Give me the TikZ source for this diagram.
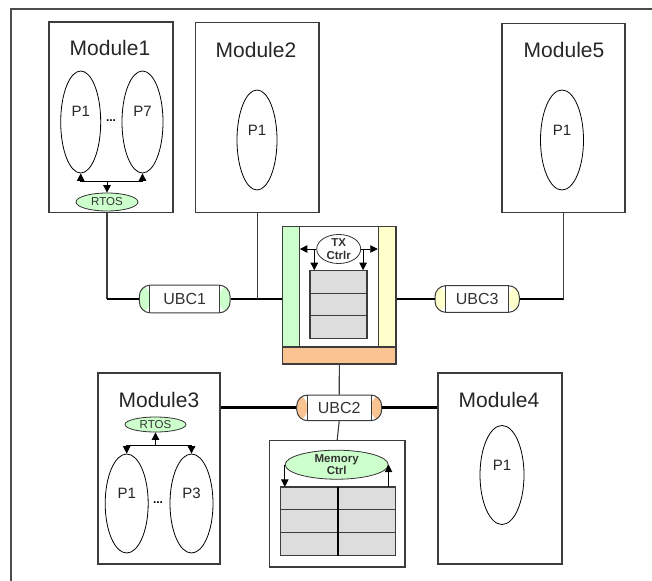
\documentclass[tikz,border=0pt]{standalone}
\usepackage{fontspec}
\setmainfont{Liberation Sans}
\usetikzlibrary{shapes.geometric,arrows.meta}
\definecolor{capgreen}{RGB}{204,255,204}
\definecolor{capyellow}{RGB}{255,255,204}
\definecolor{caporange}{RGB}{250,196,146}
\definecolor{cellgray}{RGB}{221,221,221}
\definecolor{edgegray}{RGB}{60,60,60}
\begin{document}
\begin{tikzpicture}[x=1pt,y=-1pt,
  modbox/.style={draw=edgegray,line width=1.1pt,fill=white,inner sep=0pt,rectangle},
  title/.style={font=\fontsize{21}{24}\selectfont,inner sep=0pt,text=black!85},
  proc/.style={ellipse,draw=black,line width=0.8pt,inner sep=0pt},
  plabel/.style={font=\fontsize{15}{17}\selectfont,inner sep=0pt,text=black!85},
  dots/.style={font=\bfseries\fontsize{12}{14}\selectfont,inner sep=0pt},
  rtosnode/.style={ellipse,draw=black!80,line width=0.8pt,fill=capgreen,inner sep=0pt,font=\fontsize{11.5}{13}\selectfont,text=black!80},
  ctrl/.style={ellipse,draw=black!80,line width=0.8pt,fill=white,inner sep=0pt,align=center,font=\bfseries\fontsize{11.5}{12.5}\selectfont,text=black!80},
  cell/.style={draw=edgegray,line width=1pt,fill=cellgray,inner sep=0pt,rectangle},
  strip/.style={draw=edgegray,line width=1.1pt,inner sep=0pt,rectangle},
  ubc/.style={draw=edgegray,line width=1pt,rounded corners=11pt,fill=white,inner sep=0pt,
    font=\fontsize{16}{18}\selectfont,text=black!80,
    path picture={
      \fill[#1] (path picture bounding box.south west) rectangle ([xshift=10.5pt]path picture bounding box.north west);
      \fill[#1] ([xshift=-10.5pt]path picture bounding box.south east) rectangle (path picture bounding box.north east);
      \draw[edgegray,line width=0.8pt] ([xshift=10.5pt]path picture bounding box.south west) -- ([xshift=10.5pt]path picture bounding box.north west);
      \draw[edgegray,line width=0.8pt] ([xshift=-10.5pt]path picture bounding box.south east) -- ([xshift=-10.5pt]path picture bounding box.north east);
    }},
  bus/.style={line width=2.8pt,black},
  wire/.style={line width=1.1pt,edgegray},
  arr/.style={line width=0.9pt,black,-{Triangle[length=7.5pt,width=7.5pt]}},
  ln/.style={line width=0.9pt,black}
]
\useasboundingbox (0,0) rectangle (652,580);
\fill[white] (0,0) rectangle (652,580);
% outer frame (cropped)
\draw[line width=1.1pt,black!70] (11,600) -- (11,9) -- (670,9);

% ---------- Module1
\node[modbox,minimum width=124pt,minimum height=190.7pt] (m1) at (111,117.35) {};
\node[title] (m1t) at (110,48) {Module1};
\node[proc,minimum width=40pt,minimum height=102pt] (m1p1) at (80.7,122) {};
\node[plabel] (m1p1l) at (80.7,111) {P1};
\node[proc,minimum width=41pt,minimum height=102pt] (m1p7) at (142.5,122) {};
\node[plabel] (m1p7l) at (142.5,111) {P7};
\node[dots] (m1d) at (111,121) {...};
\node[rtosnode,minimum width=62pt,minimum height=18pt] (rtos1) at (107,202) {RTOS};
\coordinate (b1l) at (80.7,181);
\coordinate (b1r) at (142.5,181);
\draw[ln] (b1l) -- (b1r);
\draw[arr] (b1l) -- (m1p1.south);
\draw[arr] (b1r) -- (m1p7.south);
\draw[arr] (rtos1.north |- b1l) -- (rtos1.north);

% ---------- Module2
\node[modbox,minimum width=123.3pt,minimum height=190pt] (m2) at (257.35,117.3) {};
\node[title] (m2t) at (256,50) {Module2};
\node[proc,minimum width=40pt,minimum height=100pt] (m2p1) at (257,140) {};
\node[plabel] (m2p1l) at (257,130) {P1};

% ---------- Module5
\node[modbox,minimum width=123pt,minimum height=189pt] (m5) at (563.5,117.8) {};
\node[title] (m5t) at (564,50) {Module5};
\node[proc,minimum width=43pt,minimum height=100pt] (m5p1) at (562,140) {};
\node[plabel] (m5p1l) at (562,130) {P1};

% ---------- Module3
\node[modbox,minimum width=122pt,minimum height=191pt] (m3) at (159,468.5) {};
\node[title] (m3t) at (159,400) {Module3};
\node[rtosnode,minimum width=61pt,minimum height=15pt] (rtos3) at (155.5,424.5) {RTOS};
\node[proc,minimum width=43pt,minimum height=99pt] (m3p1) at (126.7,503.5) {};
\node[plabel] (m3p1l) at (126.7,493) {P1};
\node[proc,minimum width=43pt,minimum height=99pt] (m3p3) at (191.5,503.5) {};
\node[plabel] (m3p3l) at (191.5,493) {P3};
\node[dots] (m3d) at (158,503) {...};
\coordinate (b3l) at (126.7,445);
\coordinate (b3r) at (191.5,445);
\draw[ln] (b3l) -- (b3r);
\draw[arr] (b3l) -- (m3p1.north);
\draw[arr] (b3r) -- (m3p3.north);
\draw[arr] (rtos3.south |- b3l) -- (rtos3.south);

% ---------- Module4
\node[modbox,minimum width=124pt,minimum height=191pt] (m4) at (500,468.5) {};
\node[title] (m4t) at (499,400) {Module4};
\node[proc,minimum width=44pt,minimum height=99pt] (m4p1) at (502,475) {};
\node[plabel] (m4p1l) at (502,465) {P1};

% ---------- TX block
\node[modbox,minimum width=113.3pt,minimum height=137.3pt] (tx) at (339.35,295.35) {};
\node[strip,fill=capgreen,minimum width=16.6pt,minimum height=120.3pt] (gs) at (291,286.85) {};
\node[strip,fill=capyellow,minimum width=17.7pt,minimum height=120.3pt] (ys) at (387.15,286.85) {};
\node[strip,fill=caporange,minimum width=113.3pt,minimum height=17pt] (os) at (339.35,355.5) {};
\node[cell,minimum width=56.7pt,minimum height=22.5pt] (g1) at (338.35,281.95) {};
\node[cell,minimum width=56.7pt,minimum height=22.5pt] (g2) at (338.35,304.45) {};
\node[cell,minimum width=56.7pt,minimum height=22.5pt] (g3) at (338.35,326.95) {};
\draw[edgegray,line width=1.3pt] (g1.north west) rectangle (g3.south east);
\node[ctrl,minimum width=44pt,minimum height=26pt] (txc) at (338.7,249) {TX\\Ctrlr};
\draw[arr] (txc.west) -- (gs.east |- txc.west);
\draw[arr] (txc.east) -- (ys.west |- txc.east);
\draw[arr] ([xshift=-2pt]txc.west) -- ([xshift=-2pt]txc.west |- g1.north);
\draw[arr] ([xshift=2pt]txc.east) -- ([xshift=2pt]txc.east |- g1.north);

% ---------- Memory block
\node[modbox,minimum width=135.7pt,minimum height=126.3pt] (mem) at (337.15,503.85) {};
\node[cell,minimum width=56.8pt,minimum height=22.6pt] (ma1) at (309.1,498.65) {};
\node[cell,minimum width=56.8pt,minimum height=22.6pt] (ma2) at (309.1,521.25) {};
\node[cell,minimum width=56.8pt,minimum height=22.6pt] (ma3) at (309.1,543.75) {};
\node[cell,minimum width=57.5pt,minimum height=22.6pt] (mb1) at (366.25,498.65) {};
\node[cell,minimum width=57.5pt,minimum height=22.6pt] (mb2) at (366.25,521.25) {};
\node[cell,minimum width=57.5pt,minimum height=22.6pt] (mb3) at (366.25,543.75) {};
\draw[edgegray,line width=1.3pt] (ma1.north west) rectangle (mb3.south east);
\draw[black,line width=1.1pt] (ma1.north east) -- (ma3.south east);
\node[ctrl,fill=capgreen,minimum width=103pt,minimum height=29pt] (memc) at (336.7,464.7) {Memory\\Ctrl};
\draw[arr] (memc.west) -- (memc.west |- ma1.north);
\draw[arr] (mb1.north -| memc.east) -- (memc.east);

% ---------- UBCs
\node[ubc=capgreen,minimum width=90.7pt,minimum height=27.7pt] (u1) at (184.7,299) {UBC1};
\node[ubc=capyellow,minimum width=84.3pt,minimum height=26.7pt] (u3) at (477.15,299) {UBC3};
\node[ubc=caporange,minimum width=85pt,minimum height=25.7pt] (u2) at (339.2,407.85) {UBC2};

% ---------- connectors
\draw[wire] (rtos1.south |- m1.south) -- (rtos1.south |- u1.west);
\draw[bus] ([xshift=-0.5pt]rtos1.south |- u1.west) -- (u1.west);
\draw[bus] (u1.east) -- (tx.west |- u1.east);
\draw[wire] (m2.south) -- (m2.south |- u1.east);
\draw[bus] (tx.east |- u3.west) -- (u3.west);
\draw[bus] (u3.east) -- ([xshift=0.5pt]m5.south |- u3.east);
\draw[wire] (m5.south) -- (m5.south |- u3.east);
\draw[wire] (os.south) -- (u2.north);
\draw[bus] (m3.east |- u2.west) -- (u2.west);
\draw[bus] (u2.east) -- (m4.west |- u2.east);
\draw[wire] (u2.south) -- (mem.north);
\end{tikzpicture}
\end{document}
